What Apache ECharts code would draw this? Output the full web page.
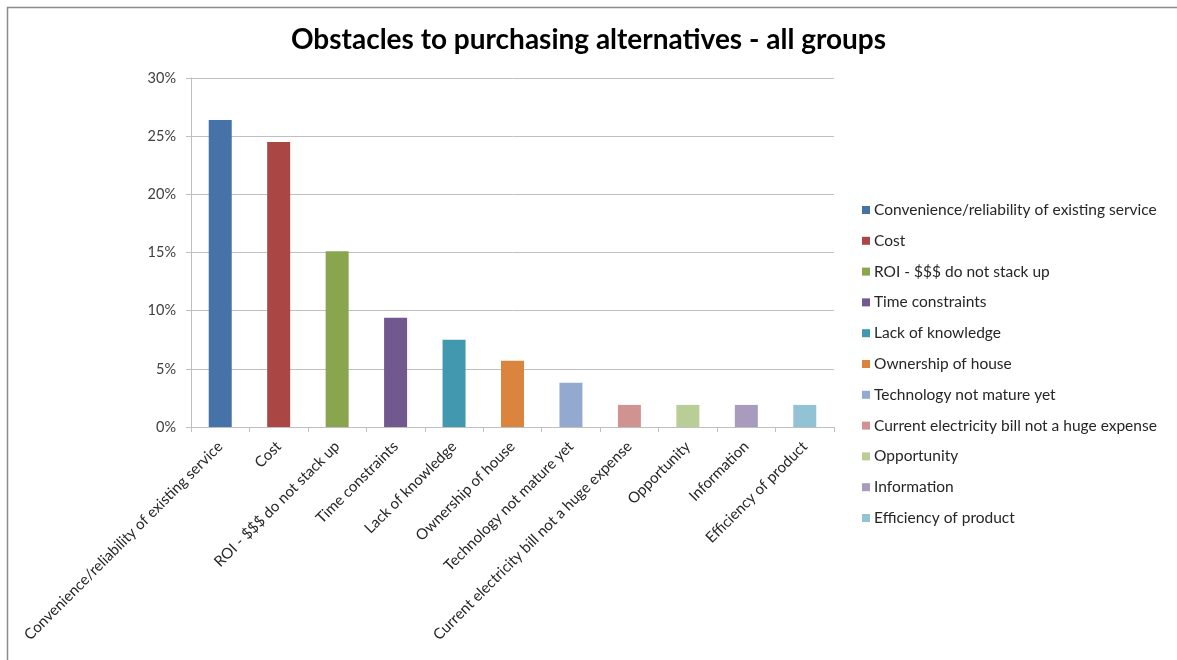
<!DOCTYPE html>
<html>
<head>
<meta charset="utf-8">
<script src="https://cdn.jsdelivr.net/npm/echarts@6/dist/echarts.min.js"></script>
<style>
  html, body { margin: 0; padding: 0; background: #ffffff; }
  #chart { width: 1177px; height: 660px; }
</style>
</head>
<body>
<div id="chart"></div>
<script>
// Obstacles to purchasing alternatives (share of all respondents)
const categories = [
  'Convenience/reliability of existing service',
  'Cost',
  'ROI - $$$ do not stack up',
  'Time constraints',
  'Lack of knowledge',
  'Ownership of house',
  'Technology not mature yet',
  'Current electricity bill not a huge expense',
  'Opportunity',
  'Information',
  'Efficiency of product'
];
const shares = [0.264, 0.245, 0.151, 0.094, 0.075, 0.057, 0.038, 0.019, 0.019, 0.019, 0.019];
const colors = ['#4572A7', '#AA4643', '#89A54E', '#71588F', '#4198AF', '#DB843D',
                '#93A9CF', '#D19392', '#B9CD96', '#A99BBD', '#92C3D4'];
const yTicks = [0, 0.05, 0.10, 0.15, 0.20, 0.25, 0.30];

const FONT = 'Lato';

// one series per category so each bar gets its own legend entry
const series = categories.map((name, i) => ({
  name: name,
  type: 'bar',
  stack: 'all',
  barWidth: 23,
  itemStyle: { color: colors[i] },
  data: categories.map((c, j) => (j === i ? shares[i] : null))
}));

const chart = echarts.init(document.getElementById('chart'), null, { renderer: 'canvas' });
chart.setOption({
  animation: false,
  backgroundColor: '#ffffff',
  color: colors,
  title: {
    text: 'Obstacles to purchasing alternatives - all groups',
    left: 'center',
    top: 21,
    textStyle: { fontFamily: FONT, fontWeight: 'bold', fontSize: 28, color: '#000000' }
  },
  legend: {
    orient: 'vertical',
    left: 857,
    top: 197,
    icon: 'rect',
    itemWidth: 8,
    itemHeight: 8,
    itemGap: 14.8,
    data: categories,
    textStyle: { fontFamily: FONT, fontSize: 15.5, color: '#262626', padding: [0, 0, 0, -1] }
  },
  grid: { left: 191, right: 343, top: 78, bottom: 233, containLabel: false },
  xAxis: {
    type: 'category',
    data: categories,
    boundaryGap: true,
    axisLine: { show: true, lineStyle: { color: '#bfbfbf', width: 1 } },
    axisTick: { show: true, alignWithLabel: false, length: 5, lineStyle: { color: '#bfbfbf' } },
    axisLabel: {
      rotate: 45,
      interval: 0,
      margin: 17,
      fontFamily: FONT,
      fontSize: 15,
      color: '#262626'
    }
  },
  yAxis: {
    type: 'value',
    min: yTicks[0],
    max: yTicks[yTicks.length - 1],
    interval: 0.05,
    axisLine: { show: true, lineStyle: { color: '#bfbfbf', width: 1 } },
    axisTick: { show: true, length: 5, lineStyle: { color: '#bfbfbf' } },
    splitLine: { show: true, lineStyle: { color: '#c0c0c0', width: 1 } },
    axisLabel: {
      margin: 15,
      fontFamily: FONT,
      fontSize: 14.5,
      color: '#404040',
      formatter: v => Math.round(v * 100) + '%'
    }
  },
  graphic: [
    {
      type: 'rect',
      shape: { x: 7.5, y: 7.5, width: 1300, height: 800 },
      style: { fill: 'none', stroke: '#8c8c8c', lineWidth: 1.5 },
      silent: true
    }
  ],
  series: series
});
</script>
</body>
</html>
